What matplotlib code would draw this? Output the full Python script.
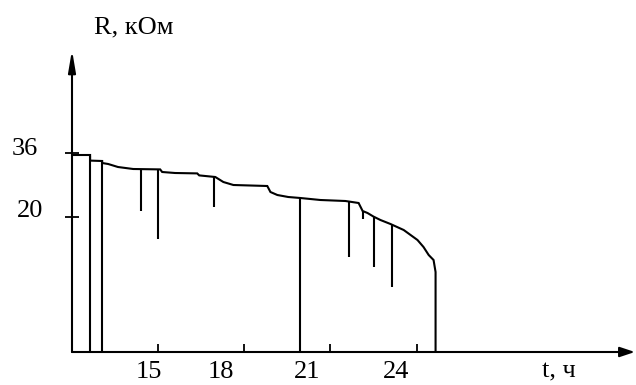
import matplotlib.pyplot as plt
import numpy as np

plt.rcParams['font.family'] = ['Liberation Serif', 'DejaVu Serif']

# main curve R(t)
t_curve = [12.0, 12.63, 12.63, 13.05, 13.05, 13.26, 13.6, 14.13, 15.07, 15.14, 15.59,
           16.36, 16.43, 16.99, 17.27, 17.62, 18.8, 18.91, 19.15, 19.53, 19.95, 20.65,
           21.52, 21.98, 22.12, 22.29, 22.5, 22.74, 23.09, 23.55, 23.79, 24.03, 24.24,
           24.42, 24.59, 24.66, 24.66]
R_curve = [35.5, 35.5, 34.1, 34.0, 33.5, 33.25, 32.5, 32.0, 31.9, 31.25, 31.0,
           30.9, 30.4, 30.0, 28.75, 28.0, 27.75, 26.25, 25.5, 25.0, 24.75, 24.25,
           24.0, 23.5, 21.5, 21.0, 20.1, 19.25, 18.25, 16.75, 15.5, 14.25, 12.5,
           10.5, 9.25, 6.25, -13.75]

# full drops to the time axis
t_full = [12.63, 13.05, 19.95]
R_full_top = [35.3, 33.9, 24.7]

# short drops hanging from the curve
t_short = [14.41, 15.0, 16.95, 21.66, 22.15, 22.5, 23.13]
R_short_top = [31.9, 32.0, 30.0, 23.9, 21.4, 20.1, 18.2]
R_short_bot = [21.5, 14.5, 22.6, 10.1, 19.5, 7.5, 2.6]

R_base = -13.75
t0, t_end = 12.0, 31.5
R_top = 61.75

xtick_pos = [15, 18, 21, 24]
xtick_lab = ['15', '18', '21', '24']
xlab_pos = [14.69, 17.2, 20.2, 23.3]
ytick_pos = [36, 20]
ytick_lab = ['36', '20']
ylab_pos = [35.5, 20.0]

fig = plt.figure(figsize=(6.36, 3.85), dpi=100)
ax = fig.add_axes([72/636, 33/385, 560/636, 302/385])
ax.set_xlim(t0, t_end)
ax.set_ylim(R_base, R_top)
for s in ax.spines.values():
    s.set_visible(False)

lw = 1.5
fs = 19
ax.plot(t_curve, R_curve, color='black', lw=lw, solid_joinstyle='miter')
ax.vlines(t_full, R_base, R_full_top, color='black', lw=lw)
ax.vlines(t_short, R_short_bot, R_short_top, color='black', lw=lw)

# axes with arrows
ax.annotate('', xy=(t_end + 0.1, R_base), xytext=(t0, R_base), annotation_clip=False,
            arrowprops=dict(arrowstyle='-|>,head_length=0.9,head_width=0.3', color='black',
                            lw=lw, shrinkA=0, shrinkB=0))
ax.annotate('', xy=(t0, R_top), xytext=(t0, R_base), annotation_clip=False,
            arrowprops=dict(arrowstyle='-|>,head_length=1.3,head_width=0.22', color='black',
                            lw=lw, shrinkA=0, shrinkB=0))

ax.set_xticks(xtick_pos)
ax.set_xticklabels([])
ax.tick_params(axis='x', direction='in', length=6, width=1.3, color='black')
ax.set_yticks(ytick_pos)
ax.set_yticklabels([])
ax.tick_params(axis='y', direction='inout', length=10, width=1.3, color='black')

for x, lab in zip(xlab_pos, xtick_lab):
    ax.text(x, -20.25, lab, ha='center', va='baseline', fontsize=fs, clip_on=False)
ax.text(10.36, ylab_pos[0], ytick_lab[0], ha='center', va='baseline', fontsize=fs, clip_on=False)
ax.text(10.53, ylab_pos[1], ytick_lab[1], ha='center', va='baseline', fontsize=fs, clip_on=False)

ax.text(14.16, 66.0, 'R, кОм', ha='center', va='baseline', fontsize=fs, clip_on=False)
ax.text(28.95, -20.0, 't, ч', ha='center', va='baseline', fontsize=fs, clip_on=False)

fig.savefig('out.png', dpi=100)
